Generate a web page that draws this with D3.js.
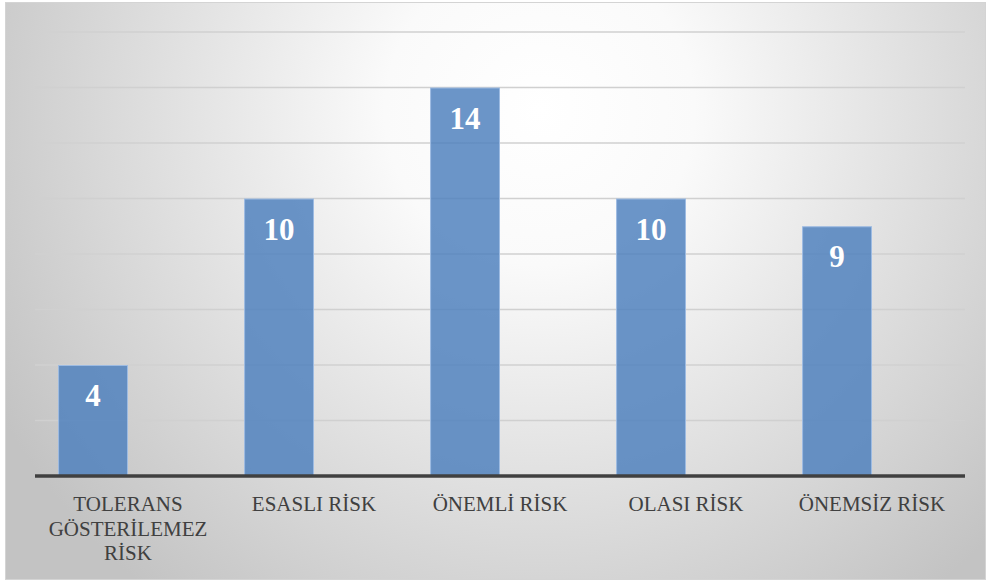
<!DOCTYPE html>
<html>
<head>
<meta charset="utf-8">
<script src="https://cdn.jsdelivr.net/npm/d3@7/dist/d3.min.js"></script>
<style>
  html, body { margin: 0; padding: 0; background: #ffffff; }
  svg { display: block; }
</style>
</head>
<body>
<svg id="chart" width="986" height="583"></svg>
<script>
// Risk categories and the number of items in each
const categories = ["TOLERANS GÖSTERİLEMEZ RİSK", "ESASLI RİSK", "ÖNEMLİ RİSK", "OLASI RİSK", "ÖNEMSİZ RİSK"];
const values = [4, 10, 14, 10, 9];
const yTicks = [0, 2, 4, 6, 8, 10, 12, 14, 16];

const frame = { x: 5.5, y: 2.5, w: 980, h: 577 };
const plot = { left: 35, right: 965, top: 32, bottom: 476 };
const FONT = "Liberation Serif";

const svg = d3.select("#chart");
const defs = svg.append("defs");

// soft radial background, bright near the top centre
const grad = defs.append("radialGradient")
  .attr("id", "bg")
  .attr("gradientUnits", "userSpaceOnUse")
  .attr("cx", 540).attr("cy", 110).attr("r", 620)
  .attr("fx", 540).attr("fy", 110);
grad.append("stop").attr("offset", "0%").attr("stop-color", "#ffffff");
grad.append("stop").attr("offset", "25%").attr("stop-color", "#fafafa");
grad.append("stop").attr("offset", "100%").attr("stop-color", "#c3c3c3");

svg.append("rect")
  .attr("x", frame.x).attr("y", frame.y)
  .attr("width", frame.w).attr("height", frame.h)
  .attr("fill", "url(#bg)")
  .attr("stroke", "#d4d4d4").attr("stroke-width", 1);

const x = d3.scaleBand()
  .domain(categories)
  .range([plot.left, plot.right])
  .paddingInner(0).paddingOuter(0);

// each category slot holds a pair of columns; only the first one carries data
const slot = d3.scaleBand()
  .domain(["count", "empty"])
  .range([0, x.bandwidth()])
  .paddingInner(0)
  .paddingOuter(0.33);

const y = d3.scaleLinear()
  .domain([0, 16])
  .range([plot.bottom, plot.top]);

// horizontal gridlines
svg.append("g")
  .selectAll("line")
  .data(yTicks.filter(t => t > 0))
  .join("line")
  .attr("x1", plot.left).attr("x2", plot.right)
  .attr("y1", d => y(d)).attr("y2", d => y(d))
  .attr("stroke", "#d0d0d0").attr("stroke-width", 1.5);

// columns
svg.append("g")
  .selectAll("rect")
  .data(values)
  .join("rect")
  .attr("x", (d, i) => x(categories[i]) + slot("count") + 0.5)
  .attr("y", d => y(d) + 0.5)
  .attr("width", slot.bandwidth() - 1)
  .attr("height", d => y(0) - y(d) - 0.5)
  .attr("fill", "#4f81bd").attr("fill-opacity", 0.84)
  .attr("stroke", "#9dbbe2").attr("stroke-width", 1);

// value labels inside the top of each column
svg.append("g")
  .selectAll("text")
  .data(values)
  .join("text")
  .attr("font-family", FONT)
  .attr("font-weight", "bold")
  .attr("font-size", 31)
  .attr("x", (d, i) => x(categories[i]) + slot("count") + slot.bandwidth() / 2)
  .attr("y", d => y(d) + 41)
  .attr("text-anchor", "middle")
  .attr("fill", "#ffffff")
  .text(d => d);

// category axis
const xAxis = d3.axisBottom(x).tickSize(0).tickPadding(0);
const gx = svg.append("g")
  .attr("transform", `translate(0,${plot.bottom})`)
  .call(xAxis)
  .attr("font-family", FONT)
  .attr("font-size", 21);
gx.select(".domain")
  .attr("d", `M${plot.left},0H${plot.right}`)
  .attr("stroke", "#404040").attr("stroke-width", 3.5);

gx.selectAll(".tick text")
  .attr("font-family", FONT)
  .attr("font-size", 21)
  .attr("fill", "#404040")
  .attr("dy", null)
  .attr("y", 0)
  .each(function (d) {
    const t = d3.select(this);
    const words = d.split(" ");
    t.text(null);
    const maxW = 170;
    const lines = [];
    let cur = [];
    const probe = t.append("tspan");
    words.forEach(w => {
      const test = cur.concat([w]).join(" ");
      probe.text(test);
      if (probe.node().getComputedTextLength() > maxW && cur.length) {
        lines.push(cur.join(" "));
        cur = [w];
      } else {
        cur.push(w);
      }
    });
    lines.push(cur.join(" "));
    probe.remove();
    lines.forEach((ln, i) => {
      t.append("tspan")
        .attr("x", 0)
        .attr("y", 35 + i * 24.5)
        .text(ln);
    });
  });
</script>
</body>
</html>
